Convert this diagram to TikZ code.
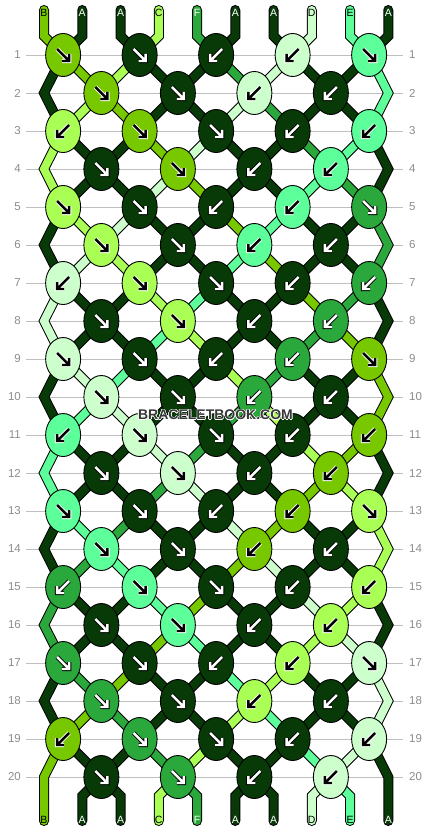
\documentclass[tikz,border=0pt]{standalone}
\usepackage{fontspec}
\setmainfont{Liberation Sans}
\usepackage[copies]{contour}
\usetikzlibrary{shapes.geometric}

\definecolor{strA}{HTML}{083A08}
\definecolor{strB}{HTML}{78C800}
\definecolor{strC}{HTML}{AAFF55}
\definecolor{strD}{HTML}{CCFFCC}
\definecolor{strE}{HTML}{5CFF99}
\definecolor{strF}{HTML}{2AA83C}
% ink = arrow/letter colour on a string colour, rim = its outline
\colorlet{inkA}{white}\colorlet{rimA}{black}
\colorlet{inkB}{black}\colorlet{rimB}{white}
\colorlet{inkC}{black}\colorlet{rimC}{white}
\colorlet{inkD}{black}\colorlet{rimD}{white}
\colorlet{inkE}{black}\colorlet{rimE}{white}
\colorlet{inkF}{white}\colorlet{rimF}{black}

\begin{document}
\begin{tikzpicture}[
x=1pt, y=-1pt,
thread/.style={draw=black, line width=1pt, double=#1, double distance=8pt, line join=miter, line cap=round},
knot/.style={draw, ellipse, fill=#1, line width=0.9pt, minimum width=35pt, minimum height=43pt, inner sep=0pt},
rowline/.style={draw=black!25, line width=0.8pt},
rownum/.style={text=black!45, font=\fontsize{11.5}{12}\selectfont, inner sep=0pt},
tag/.style={text=#1, font=\fontsize{10.5}{11}\selectfont, inner sep=0pt},
arrowmark/.style 2 args={draw=#1, line width=2.4pt, preaction={draw=#2, line width=4.4pt}}
]
\useasboundingbox (0,0) rectangle (430,832);

% row lines and numbers
\foreach \r in {1,...,20} {
  \pgfmathsetmacro\yy{55+38*(\r-1)}
  \coordinate (ls-\r) at (26,\yy);
  \coordinate (le-\r) at (403,\yy);
  \draw[rowline] (ls-\r) -- (le-\r);
  \node[rownum, anchor=east] (numl-\r) at (21,\yy) {\r};
  \node[rownum, anchor=west] (numr-\r) at (409,\yy) {\r};
}

% string positions in every row
\foreach \r in {1,...,20} {
  \foreach \i in {1,...,10} {
    \ifodd\numexpr\i+\r\relax \def\off{-19.125}\else \def\off{19.125}\fi
    \ifodd\r\relax\else
      \ifnum\i=1 \def\off{0}\fi
      \ifnum\i=10 \def\off{0}\fi
    \fi
    \coordinate (p-\r-\i) at ({44+38.25*(\i-1)+\off}, {55+38*(\r-1)});
  }
}
\foreach \i in {1,...,10} {
  \coordinate (t-\i) at ({44+38.25*(\i-1)}, 10);
  \coordinate (p-0-\i) at ({44+38.25*(\i-1)}, 36);
  \coordinate (p-21-\i) at ({44+38.25*(\i-1)}, 796);
  \coordinate (b-\i) at ({44+38.25*(\i-1)}, 821);
}

% strings, row by row
\foreach \r/\st in {
  0/{B,A,A,C,F,A,A,D,E,A}, 1/{A,B,C,A,A,F,D,A,A,E}, 2/{A,C,B,A,A,D,F,A,A,E},
  3/{C,A,A,B,D,A,A,F,E,A}, 4/{C,A,A,D,B,A,A,E,F,A}, 5/{A,C,D,A,A,B,E,A,A,F},
  6/{A,D,C,A,A,E,B,A,A,F}, 7/{D,A,A,C,E,A,A,B,F,A}, 8/{D,A,A,E,C,A,A,F,B,A},
  9/{A,D,E,A,A,C,F,A,A,B}, 10/{A,E,D,A,A,F,C,A,A,B}, 11/{E,A,A,D,F,A,A,C,B,A},
  12/{E,A,A,F,D,A,A,B,C,A}, 13/{A,E,F,A,A,D,B,A,A,C}, 14/{A,F,E,A,A,B,D,A,A,C},
  15/{F,A,A,E,B,A,A,D,C,A}, 16/{F,A,A,B,E,A,A,C,D,A}, 17/{A,F,B,A,A,E,C,A,A,D},
  18/{A,B,F,A,A,C,E,A,A,D}, 19/{B,A,A,F,C,A,A,E,D,A}, 20/{B,A,A,C,F,A,A,D,E,A}} {
  \pgfmathtruncatemacro\ra{\r+1}
  \pgfmathtruncatemacro\rb{\r+2}
  \foreach \sc [count=\i] in \st {
    \def\edge{0}
    \ifnum\i=1 \def\edge{1}\fi
    \ifnum\i=10 \def\edge{1}\fi
    \ifnum\r=0
      \draw[thread=str\sc] (t-\i) -- (p-0-\i) -- (p-1-\i);
    \else\ifnum\edge=0
      \ifnum\r=20
        \draw[thread=str\sc] (p-20-\i) -- (p-21-\i) -- (b-\i);
      \else
        \draw[thread=str\sc] (p-\r-\i) -- (p-\ra-\i);
      \fi
    \else\ifodd\r\relax
      \ifnum\r=19
        \draw[thread=str\sc] (p-19-\i) -- (p-20-\i) -- (b-\i);
      \else
        \draw[thread=str\sc] (p-\r-\i) -- (p-\ra-\i) -- (p-\rb-\i);
      \fi
    \fi\fi\fi
  }
}

% knots: colour / direction
\foreach \r/\ks in {
  1/{B/R,A/R,A/L,D/L,E/R}, 2/{B/R,A/R,D/L,A/L}, 3/{C/L,B/R,A/R,A/L,E/L}, 4/{A/R,B/R,A/L,E/L},
  5/{C/R,A/R,A/L,E/L,F/R}, 6/{C/R,A/R,E/L,A/L}, 7/{D/L,C/R,A/R,A/L,F/L}, 8/{A/R,C/R,A/L,F/L},
  9/{D/R,A/R,A/L,F/L,B/R}, 10/{D/R,A/R,F/L,A/L}, 11/{E/L,D/R,A/R,A/L,B/L}, 12/{A/R,D/R,A/L,B/L},
  13/{E/R,A/R,A/L,B/L,C/R}, 14/{E/R,A/R,B/L,A/L}, 15/{F/L,E/R,A/R,A/L,C/L}, 16/{A/R,E/R,A/L,C/L},
  17/{F/R,A/R,A/L,C/L,D/R}, 18/{F/R,A/R,C/L,A/L}, 19/{B/L,F/R,A/R,A/L,D/L}, 20/{A/R,F/R,A/L,D/L}} {
  \foreach \kc/\kd [count=\c] in \ks {
    \ifodd\r\relax \pgfmathtruncatemacro\i{2*\c-1}\else \pgfmathtruncatemacro\i{2*\c}\fi
    \node[knot=str\kc] (k-\r-\c) at (p-\r-\i) {};
    \begin{scope}[shift={(k-\r-\c.center)}]
      \if\kd R
        \draw[arrowmark={ink\kc}{rim\kc}] (-6,-6) -- (5.5,5.5) (-1,6) -- (6,6) -- (6,-1);
      \else
        \draw[arrowmark={ink\kc}{rim\kc}] (6,-6) -- (-5.5,5.5) (1,6) -- (-6,6) -- (-6,-1);
      \fi
    \end{scope}
  }
}

% string letters
\foreach \sc [count=\i] in {B,A,A,C,F,A,A,D,E,A} {
  \node[tag=ink\sc] (top-\i) at ({44+38.25*(\i-1)}, 12.5) {\sc};
  \node[tag=ink\sc] (bot-\i) at ({44+38.25*(\i-1)}, 820) {\sc};
}

\node[font=\bfseries\fontsize{14}{14}\selectfont, text=black!78] (mark) at (215.5,415) {\contour{white}{BRACELETBOOK.COM}};
\end{tikzpicture}
\end{document}
